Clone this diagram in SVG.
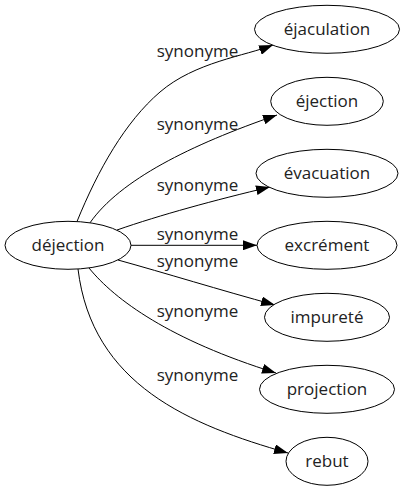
<svg xmlns="http://www.w3.org/2000/svg" width="405" height="491" viewBox="0 0 405 491">
<style>
.n ellipse{fill:#fff;stroke:#000;stroke-width:1}
text{font-family:"Open Sans",sans-serif;font-size:17px;fill:#222;text-anchor:middle}
.e path{fill:none;stroke:#000;stroke-width:1;marker-end:url(#ah)}
</style>
<defs>
<marker id="ah" markerUnits="userSpaceOnUse" markerWidth="14" markerHeight="10" viewBox="0 0 13.3 9.4" refX="13.3" refY="4.7" orient="auto">
<path d="M0,0 L13.3,4.7 L0,9.4 z" fill="#000"/>
</marker>
</defs>
<rect width="405" height="491" fill="#fff"/>
<g id="edges" class="e">
<path d="M77,221.5 C98,170 125,122 160,92 S245,56 273,45"/>
<path d="M90,222.8 C120,180 190,145 277,115"/>
<path d="M117,230 C160,215 215,200 270,187"/>
<path d="M131,245.3 L257,245.3"/>
<path d="M118,260 C165,273 220,290 275,305"/>
<path d="M89,268 C115,300 170,340 276,373"/>
<path d="M78,269 C92,385 190,425 288,453"/>
</g>
<g id="labels">
<text x="197.5" y="57">synonyme</text>
<text x="197.5" y="130">synonyme</text>
<text x="197.5" y="190.5">synonyme</text>
<text x="197.5" y="240">synonyme</text>
<text x="197.5" y="267">synonyme</text>
<text x="197.5" y="317">synonyme</text>
<text x="197.5" y="380.5">synonyme</text>
</g>
<g id="dejection" class="n"><ellipse cx="68" cy="245.3" rx="63" ry="24"/><text x="68" y="250.5">déjection</text></g>
<g id="ejaculation" class="n"><ellipse cx="327" cy="29.3" rx="72.5" ry="24"/><text x="327" y="34.5">éjaculation</text></g>
<g id="ejection" class="n"><ellipse cx="327" cy="101.3" rx="56.3" ry="24"/><text x="327" y="106.5">éjection</text></g>
<g id="evacuation" class="n"><ellipse cx="327" cy="173.3" rx="71" ry="24"/><text x="327" y="178.5">évacuation</text></g>
<g id="excrement" class="n"><ellipse cx="327" cy="245.3" rx="70" ry="24"/><text x="327" y="250.5">excrément</text></g>
<g id="impurete" class="n"><ellipse cx="327" cy="317.3" rx="62.5" ry="24"/><text x="327" y="322.5">impureté</text></g>
<g id="projection" class="n"><ellipse cx="327" cy="389.3" rx="67.5" ry="24"/><text x="327" y="394.5">projection</text></g>
<g id="rebut" class="n"><ellipse cx="327" cy="461.3" rx="41" ry="24"/><text x="327" y="466.5">rebut</text></g>
</svg>
